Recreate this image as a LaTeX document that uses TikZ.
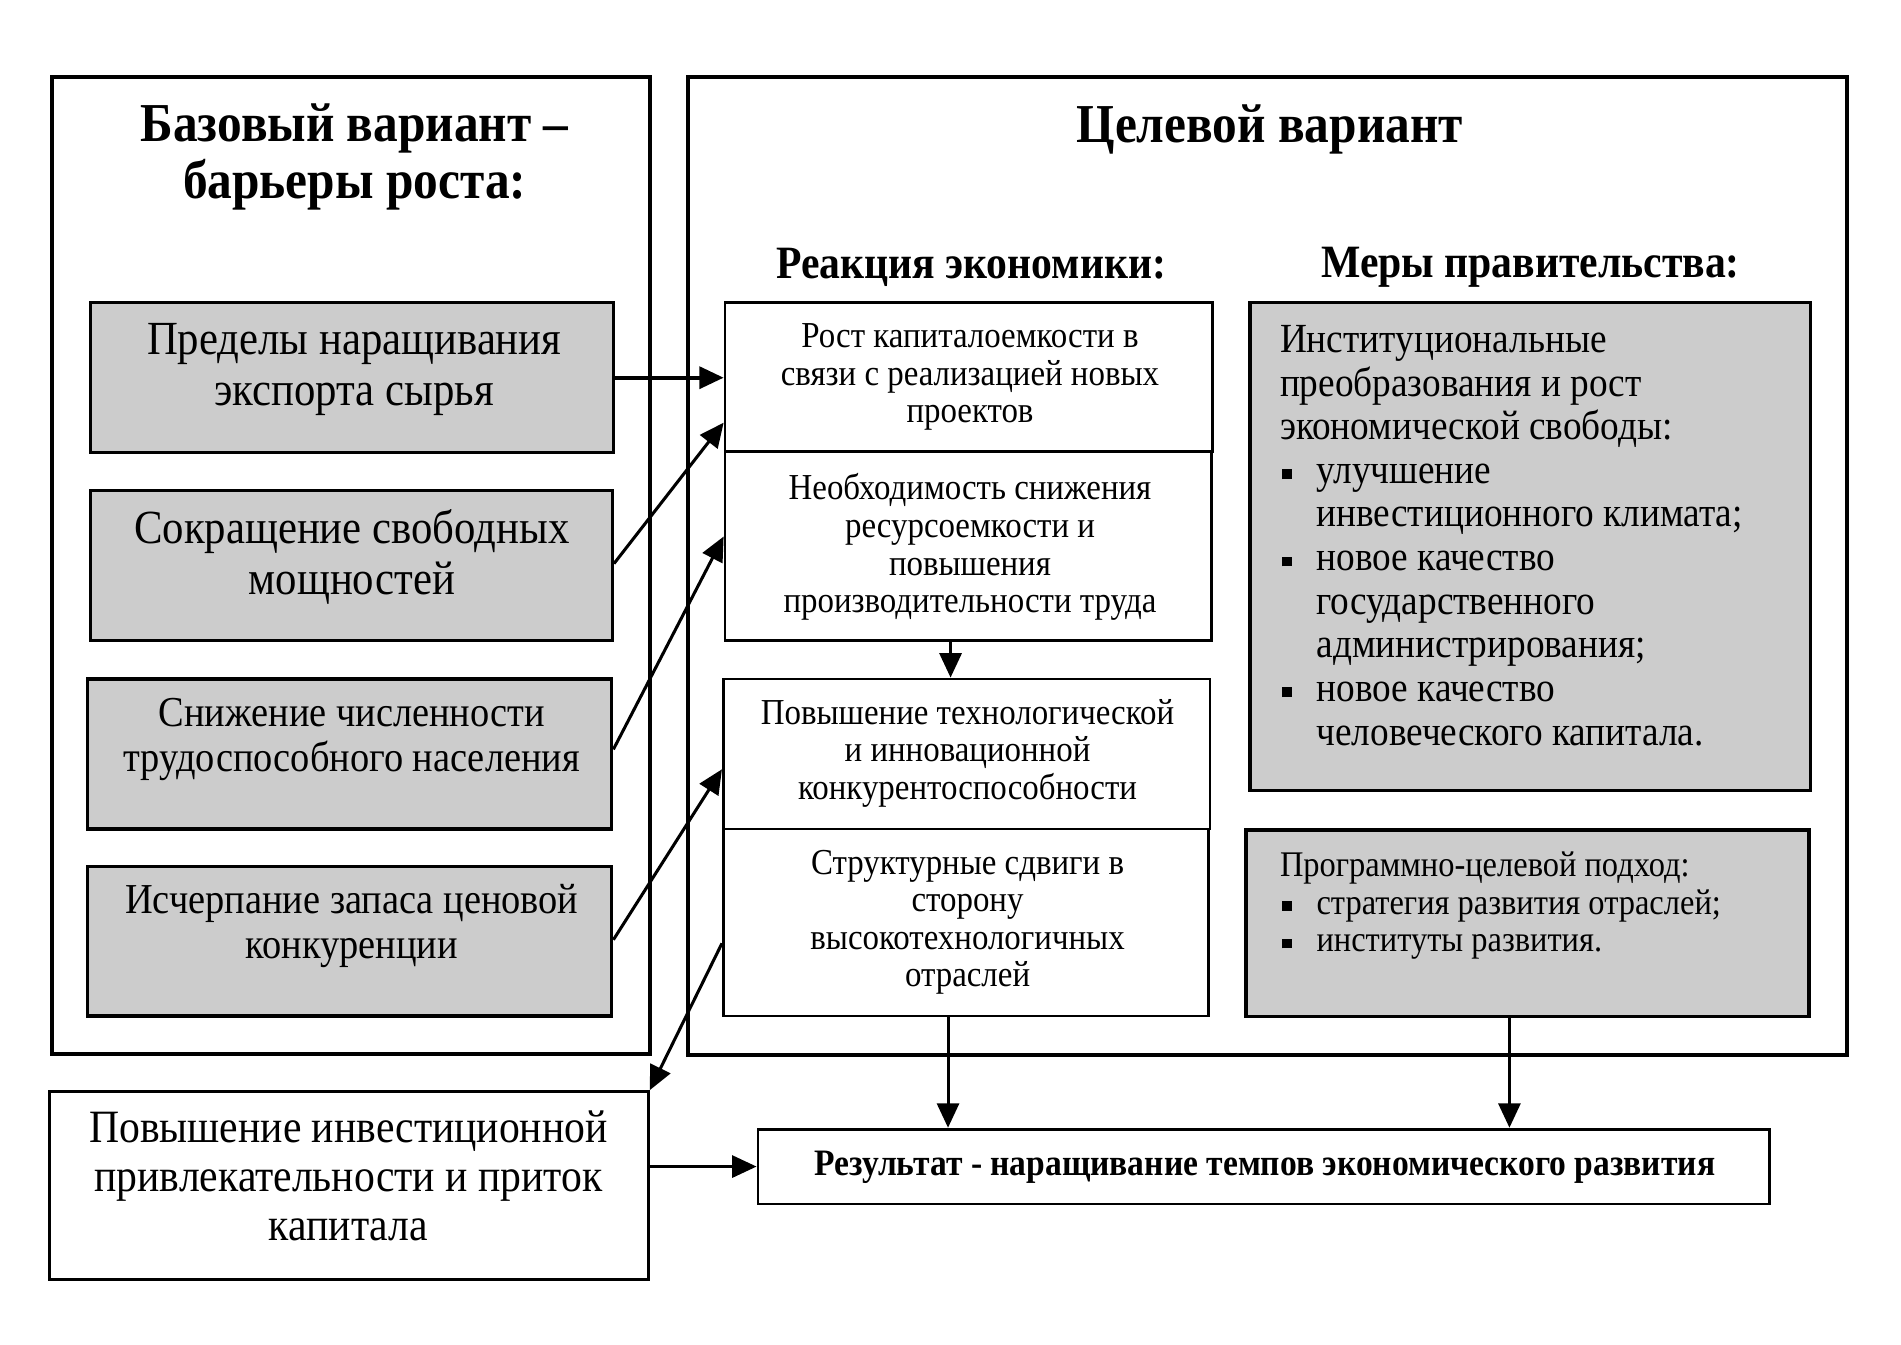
\documentclass[tikz,border=0pt]{standalone}
\usepackage{fontspec}
\setmainfont{Liberation Serif}[FakeStretch=0.9]
\usetikzlibrary{fit,calc,arrows.meta}
\newcommand\fs[2]{\fontsize{#1}{#2}\selectfont}
\newcommand\bul{\makebox[15pt][l]{\hspace*{0.8pt}\rule[0.1em]{4pt}{4pt}}}
\newcommand\ind{\hspace*{15pt}}
\begin{document}
\begin{tikzpicture}[x=0.5pt,y=-0.5pt,
  outer/.style={draw, line width=1.6pt, inner sep=0pt},
  shadebox/.style={draw, line width=1.35pt, fill=black!20, inner sep=0pt},
  plainbox/.style={draw, line width=1.15pt, fill=white, inner sep=0pt},
  txt/.style={align=center, inner sep=0pt},
  ltxt/.style={align=left, inner sep=0pt, anchor=north west},
  arr/.style={line width=1.25pt, -{Triangle[length=10pt,width=9pt]}}]
\useasboundingbox[fill=white] (0,0) rectangle (1560,1103);

% outer frames
\node[outer, fit={(42.4,63.5)(533.4,865)}] (L) {};
\node[outer, fit={(564.9,63)(1515.5,865.5)}] (R) {};

% titles
\node[txt, font=\bfseries\fs{22.5}{23.5}] (t1) at (291,129) {Базовый вариант –\\барьеры роста:};
\node[txt, font=\bfseries\fs{22.5}{23.5}] (t2) at (1042,106) {Целевой вариант};
\node[txt, font=\bfseries\fs{19}{20}] (h1) at (797,219) {Реакция экономики:};
\node[txt, font=\bfseries\fs{19}{20}] (h2) at (1256,219) {Меры правительства:};

% left barriers
\node[shadebox, fit={(74,248.4)(503.3,371.5)}] (b1) {};
\node[shadebox, fit={(74,402.6)(502.5,525.7)}] (b2) {};
\node[shadebox, fit={(72,557.2)(502,680.3)}] (b3) {};
\node[shadebox, fit={(72,711.2)(502,833.7)}] (b4) {};
\node[txt, font=\fs{19.5}{21}] (b1t) at (290.7,303) {Пределы наращивания\\экспорта сырья};
\node[txt, font=\fs{19.5}{21}] (b2t) at (288.7,457) {Сокращение свободных\\мощностей};
\node[txt, font=\fs{17.5}{18.5}] (b3t) at (288.7,607) {Снижение численности\\трудоспособного населения};
\node[txt, font=\fs{17.5}{18.5}] (b4t) at (288.7,760) {Исчерпание запаса ценовой\\конкуренции};

% middle reaction
\node[plainbox, fit={(595,248.4)(994.8,370.6)}] (m1) {};
\node[plainbox, fit={(595,370.6)(994,525.7)}] (m2) {};
\node[plainbox, fit={(593.6,557.2)(993,680.3)}] (m3) {};
\node[plainbox, fit={(593.6,680.3)(992,833.7)}] (m4) {};
\node[txt, font=\fs{15}{15.4}] (m1t) at (796,309.6) {Рост капиталоемкости в\\связи с реализацией новых\\проектов};
\node[txt, font=\fs{15}{15.4}] (m2t) at (796,449) {Необходимость снижения\\ресурсоемкости и\\повышения\\производительности труда};
\node[txt, font=\fs{15}{15.4}] (m3t) at (794,618) {Повышение технологической\\и инновационной\\конкурентоспособности};
\node[txt, font=\fs{15}{15.4}] (m4t) at (794,757) {Структурные сдвиги в\\сторону\\высокотехнологичных\\отраслей};

% right government measures
\node[shadebox, fit={(1025.8,248.4)(1486,648.8)}] (r1) {};
\node[shadebox, fit={(1022.5,681)(1484.6,834.3)}] (r2) {};
\node[ltxt, font=\fs{17}{17.9}] (r1t) at (1050,266.5) {Институциональные\\преобразования и рост\\экономической свободы:\\\bul улучшение\\\ind инвестиционного климата;\\\bul новое качество\\\ind государственного\\\ind администрирования;\\\bul новое качество\\\ind человеческого капитала.};
\node[ltxt, font=\fs{14.8}{15.5}] (r2t) at (1050,698.5) {Программно-целевой подход:\\\bul стратегия развития отраслей;\\\bul институты развития.};

% bottom
\node[plainbox, fit={(40.4,895.8)(532,1050)}] (bl) {};
\node[txt, font=\fs{19}{20}] (blt) at (286,965) {Повышение инвестиционной\\привлекательности и приток\\капитала};
\node[plainbox, fit={(622,926.6)(1452,988)}] (res) {};
\node[txt, font=\bfseries\fs{15.3}{16}] (rest) at (1038,958) {Результат - наращивание темпов экономического развития};

% arrows
\draw[arr, line width=1.6pt] (b1.east) -- (b1.east -| m1.west);
\draw[arr] ($(b2.north east)!0.487!(b2.south east)$) -- ($(m1.north west)!0.8!(m1.south west)$);
\draw[arr] ($(b3.north east)!0.47!(b3.south east)$) -- ($(m2.north west)!0.45!(m2.south west)$);
\draw[arr] ($(b4.north east)!0.49!(b4.south east)$) -- ($(m3.north west)!0.6!(m3.south west)$);
\draw[arr] ($(m4.north west)!0.61!(m4.south west)$) -- (bl.north east);
\coordinate (a6) at ($(m2.south west)!0.464!(m2.south east)$);
\draw[arr] (a6) -- (a6 |- m3.north);
\coordinate (a7) at ($(m4.south west)!0.463!(m4.south east)$);
\draw[arr] (a7) -- (a7 |- res.north);
\coordinate (a8) at ($(r2.south west)!0.468!(r2.south east)$);
\draw[arr] (a8) -- (a8 |- res.north);
\draw[arr] (bl.east |- res.west) -- (res.west);
\end{tikzpicture}
\end{document}
